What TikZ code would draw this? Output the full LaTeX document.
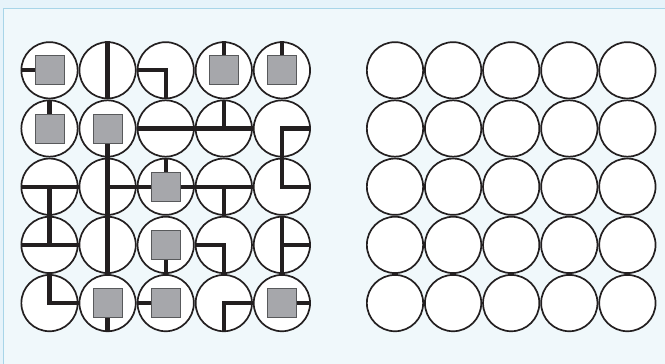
\documentclass[tikz,border=0pt]{standalone}
\begin{document}
\begin{tikzpicture}[x=1pt,y=-1pt,
  cell/.style={circle,draw=ink,fill=white,line width=1.7pt,minimum size=56.3pt,inner sep=0pt},
  wire/.style={draw=ink,line width=4.3pt,line cap=butt},
  block/.style={rectangle,draw=blockline,fill=blockfill,line width=0.8pt,minimum size=29pt,inner sep=0pt}]
\definecolor{ink}{HTML}{231F20}
\definecolor{blockfill}{HTML}{A6A7AB}
\definecolor{blockline}{HTML}{58595B}
\definecolor{outerbg}{HTML}{E6F3FA}
\definecolor{panelbg}{HTML}{F0F8FB}
\definecolor{panelline}{HTML}{A8D5E8}
\useasboundingbox (0,0) rectangle (665,364);
\fill[outerbg] (0,0) rectangle (665,364);
\filldraw[fill=panelbg,draw=panelline,line width=1.5pt] (3.5,8.5) rectangle (680,380);
% left grid
\foreach \r/\c/\s/\dirs in {
  1/1/1/{west}, 1/2/0/{north,south}, 1/3/0/{west,south}, 1/4/1/{north}, 1/5/1/{north},
  2/1/1/{north}, 2/2/1/{south}, 2/3/0/{west,east}, 2/4/0/{north,east,west}, 2/5/0/{east,south},
  3/1/0/{west,east,south}, 3/2/0/{north,south,east}, 3/3/1/{north,west,east}, 3/4/0/{west,east,south}, 3/5/0/{north,east},
  4/1/0/{north,west,east}, 4/2/0/{north,south}, 4/3/1/{south}, 4/4/0/{west,south}, 4/5/0/{north,south,east},
  5/1/0/{north,east}, 5/2/1/{south}, 5/3/1/{west}, 5/4/0/{east,south}, 5/5/1/{east}} {
  \node[cell] (L\r\c) at ({49.5+58.1*(\c-1)},{70.3+58.2*(\r-1)}) {};
  \foreach \d in \dirs {\draw[wire] (L\r\c.center) -- (L\r\c.\d);}
  \fill[ink] (L\r\c.center) ++(-2.15,-2.15) rectangle ++(4.3,4.3);
  \ifnum\s=1 \node[block] (B\r\c) at (L\r\c.center) {};\fi
}
% right grid
\foreach \r in {1,...,5} {
  \foreach \c in {1,...,5} {
    \node[cell] (R\r\c) at ({395+58.1*(\c-1)},{70.3+58.2*(\r-1)}) {};
  }
}
\end{tikzpicture}
\end{document}
